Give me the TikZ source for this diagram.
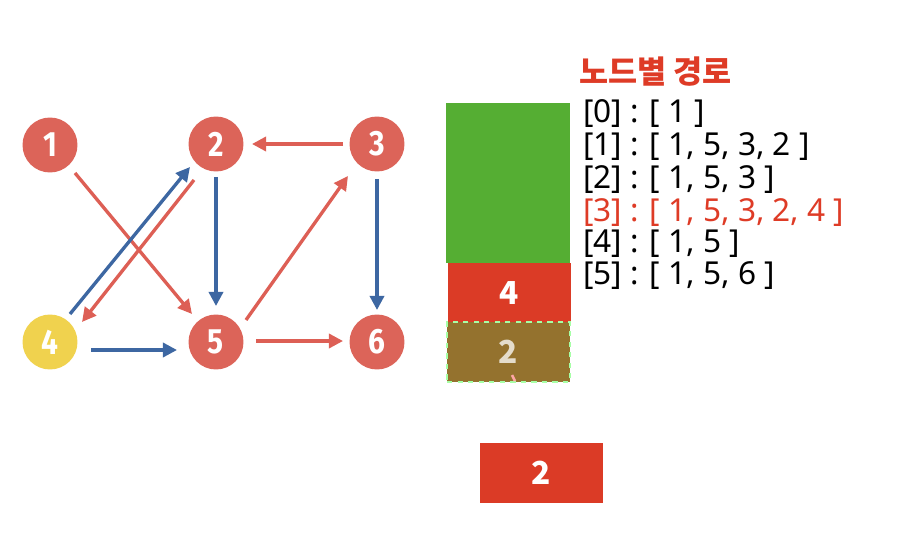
\documentclass[tikz,border=0pt]{standalone}
\usepackage{fontspec}
\setmainfont{Noto Sans}
\newfontfamily\krfont{Noto Sans CJK KR}
\newfontfamily\digitfont{Fira Sans}[FakeStretch=0.85]
\usetikzlibrary{arrows.meta, positioning}

\definecolor{nodered}{HTML}{DC6459}
\definecolor{nodeyellow}{HTML}{F0D24E}
\definecolor{edgered}{HTML}{DD5F55}
\definecolor{edgeblue}{HTML}{3D67A2}
\definecolor{boxgreen}{HTML}{55AE33}
\definecolor{boxred}{HTML}{DB3B26}
\definecolor{boxbrown}{HTML}{94722E}
\definecolor{textred}{HTML}{DE3B26}

\begin{document}
\begin{tikzpicture}[
    x=0.02cm, y=-0.02cm,
    vertex/.style={circle, fill=nodered, minimum size=1.1cm, inner sep=0pt, text=white, font=\digitfont\bfseries\fontsize{20}{20}\selectfont},
    start/.style={vertex, fill=nodeyellow},
    redge/.style={draw=edgered, line width=1.9pt, -{Triangle[length=8pt, width=8pt]}},
    bedge/.style={draw=edgeblue, line width=1.9pt, -{Triangle[length=8pt, width=8pt]}},
    stackbox/.style={minimum width=2.46cm, minimum height=1.2cm, inner sep=0pt, text=white, font=\krfont\fontsize{18}{18}\selectfont},
    path text/.style={anchor=west, inner sep=0pt, font=\fontsize{18}{18}\selectfont}
]
\useasboundingbox (0,0) rectangle (917,544);

% Graph nodes
\node[vertex] (n1) at (50,145) {1};
\node[vertex] (n2) at (216,144) {2};
\node[vertex] (n3) at (377,144) {3};
\node[start] (n4) at (50,342) {4};
\node[vertex] (n5) at (216,342) {5};
\node[vertex] (n6) at (377,342) {6};

% Edges
\draw[redge] ([shift={(25,28)}]n1.center) -- ([shift={(-24,-28)}]n5.center);
\draw[bedge] ([shift={(20,-28)}]n4.center) -- ([shift={(-26,23)}]n2.center);
\draw[redge] ([shift={(-22,36)}]n2.center) -- ([shift={(32,-20)}]n4.center);
\draw[bedge] ([shift={(0,33)}]n2.center) -- ([shift={(0,-36)}]n5.center);
\draw[redge] ([shift={(-34,0)}]n3.center) -- ([shift={(36,0)}]n2.center);
\draw[redge] ([shift={(30,-22)}]n5.center) -- ([shift={(-29,32)}]n3.center);
\draw[bedge] ([shift={(0,35)}]n3.center) -- ([shift={(0,-32)}]n6.center);
\draw[bedge] ([shift={(41,8)}]n4.center) -- ([shift={(-39,8)}]n5.center);
\draw[redge] ([shift={(40,-1)}]n5.center) -- ([shift={(-34,-1)}]n6.center);

% Stack
\fill[boxgreen] (446,103) rectangle (570,263);
\node[stackbox, fill=boxred] (top) at (509.5,293) {\bfseries 4};
\node[stackbox, fill=boxbrown, draw=green!35!white, dashed, line width=1.2pt, text=white!75!boxbrown] (popped) at (508.5,352) {\bfseries 2};
\draw[red!35!white, line width=1.5pt] (512,375) -- (515,381);
\node[stackbox, fill=boxred] (cur) at (541.5,473) {\bfseries 2};

% Paths per node
\node[anchor=west, inner sep=0pt, text=textred, font=\krfont\bfseries\fontsize{18}{18}\selectfont] (title) at (579,72) {노드별 경로};
\node[path text] (p0) at (583,114) {[0] : [ 1 ]};
\node[path text] (p1) at (583,147) {[1] : [ 1, 5, 3, 2 ]};
\node[path text] (p2) at (583,180) {[2] : [ 1, 5, 3 ]};
\node[path text, text=textred] (p3) at (583,213) {[3] : [ 1, 5, 3, 2, 4 ]};
\node[path text] (p4) at (583,244) {[4] : [ 1, 5 ]};
\node[path text] (p5) at (583,276) {[5] : [ 1, 5, 6 ]};

\end{tikzpicture}
\end{document}
